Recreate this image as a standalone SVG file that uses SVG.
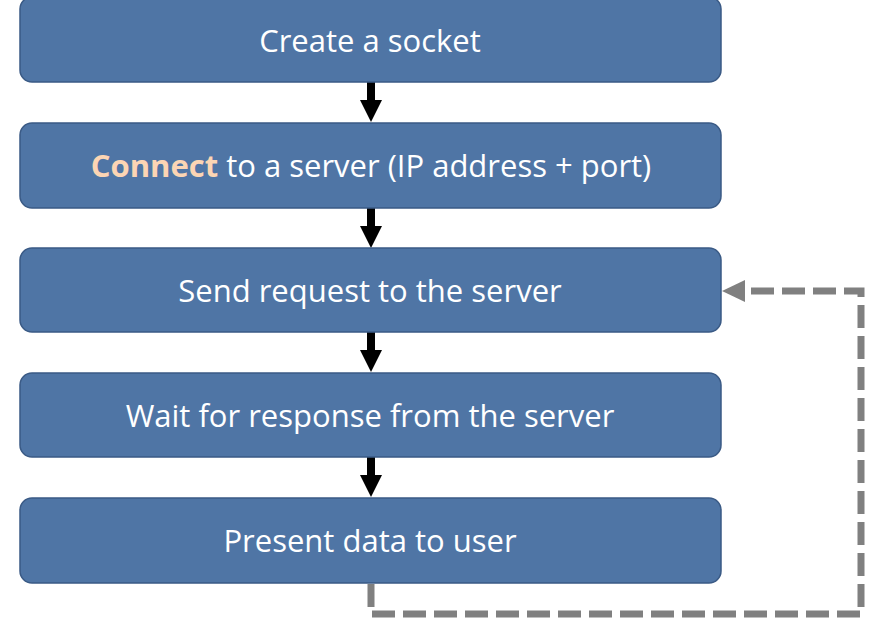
<svg xmlns="http://www.w3.org/2000/svg" width="892" height="620" viewBox="0 0 892 620">
<defs>
<style>
.box{fill:#4f75a5;stroke:#3a5a85;stroke-width:1.5}
.t{font-family:"Open Sans","Liberation Sans",sans-serif;font-size:31px;fill:#ffffff;text-anchor:middle}
.hl{fill:#fcd5b4;font-weight:bold}
.shaft{stroke:#000;stroke-width:8}
.head{fill:#000}
.loop{fill:none;stroke:#808080;stroke-width:7;stroke-dasharray:23 8}
</style>
</defs>
<rect width="892" height="620" fill="#ffffff"/>
<g id="connectors">
<line class="shaft" x1="371" y1="82" x2="371" y2="102"/>
<polygon class="head" points="360,100 382,100 371,122"/>
<line class="shaft" x1="371" y1="208" x2="371" y2="228"/>
<polygon class="head" points="360,226 382,226 371,248"/>
<line class="shaft" x1="371" y1="332" x2="371" y2="352"/>
<polygon class="head" points="360,350 382,350 371,372"/>
<line class="shaft" x1="371" y1="457" x2="371" y2="477"/>
<polygon class="head" points="360,475 382,475 371,497"/>
<path class="loop" d="M371,584 V614 H861 V291 H745"/>
<polygon points="722,291 745,280 745,302" fill="#808080"/>
</g>
<g id="n1"><rect class="box" x="20" y="-3" width="701" height="85" rx="12"/><text class="t" x="370" y="52">Create a socket</text></g>
<g id="n2"><rect class="box" x="20" y="123" width="701" height="85" rx="12"/><text class="t" x="371" y="177"><tspan class="hl">Connect</tspan> to a server (IP address + port)</text></g>
<g id="n3"><rect class="box" x="20" y="248" width="701" height="84" rx="12"/><text class="t" x="370" y="302">Send request to the server</text></g>
<g id="n4"><rect class="box" x="20" y="373" width="701" height="84" rx="12"/><text class="t" x="370" y="427">Wait for response from the server</text></g>
<g id="n5"><rect class="box" x="20" y="498" width="701" height="85" rx="12"/><text class="t" x="370" y="552">Present data to user</text></g>
</svg>
